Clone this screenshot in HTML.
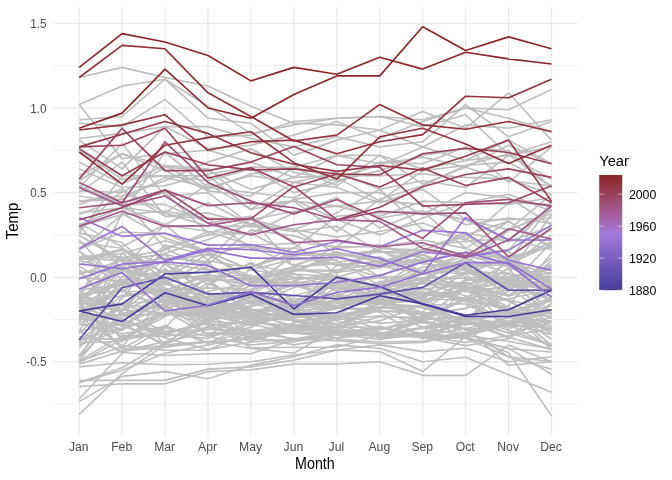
<!DOCTYPE html>
<html><head><meta charset="utf-8"><title>Temp by Month</title>
<style>
html,body{margin:0;padding:0;background:#fff;}
body{width:672px;height:480px;overflow:hidden;font-family:"Liberation Sans",sans-serif;}
svg{display:block;will-change:transform;}
text{font-family:"Liberation Sans",sans-serif;}
</style></head><body>
<svg width="672" height="480" viewBox="0 0 672 480">

<g stroke="#ebebeb" fill="none">
<line x1="53.40" x2="577.20" y1="404.10" y2="404.10" stroke-width="0.71"/>
<line x1="53.40" x2="577.20" y1="319.50" y2="319.50" stroke-width="0.71"/>
<line x1="53.40" x2="577.20" y1="234.90" y2="234.90" stroke-width="0.71"/>
<line x1="53.40" x2="577.20" y1="150.30" y2="150.30" stroke-width="0.71"/>
<line x1="53.40" x2="577.20" y1="65.70" y2="65.70" stroke-width="0.71"/>
<line x1="53.40" x2="577.20" y1="361.80" y2="361.80" stroke-width="1.42"/>
<line x1="53.40" x2="577.20" y1="277.20" y2="277.20" stroke-width="1.42"/>
<line x1="53.40" x2="577.20" y1="192.60" y2="192.60" stroke-width="1.42"/>
<line x1="53.40" x2="577.20" y1="108.00" y2="108.00" stroke-width="1.42"/>
<line x1="53.40" x2="577.20" y1="23.40" y2="23.40" stroke-width="1.42"/>
<line x1="79.15" x2="79.15" y1="7.30" y2="435.30" stroke-width="1.42"/>
<line x1="122.09" x2="122.09" y1="7.30" y2="435.30" stroke-width="1.42"/>
<line x1="165.03" x2="165.03" y1="7.30" y2="435.30" stroke-width="1.42"/>
<line x1="207.97" x2="207.97" y1="7.30" y2="435.30" stroke-width="1.42"/>
<line x1="250.91" x2="250.91" y1="7.30" y2="435.30" stroke-width="1.42"/>
<line x1="293.85" x2="293.85" y1="7.30" y2="435.30" stroke-width="1.42"/>
<line x1="336.80" x2="336.80" y1="7.30" y2="435.30" stroke-width="1.42"/>
<line x1="379.74" x2="379.74" y1="7.30" y2="435.30" stroke-width="1.42"/>
<line x1="422.68" x2="422.68" y1="7.30" y2="435.30" stroke-width="1.42"/>
<line x1="465.62" x2="465.62" y1="7.30" y2="435.30" stroke-width="1.42"/>
<line x1="508.56" x2="508.56" y1="7.30" y2="435.30" stroke-width="1.42"/>
<line x1="551.50" x2="551.50" y1="7.30" y2="435.30" stroke-width="1.42"/>
</g>
<g stroke="#bebebe" stroke-width="1.65" fill="none" stroke-linejoin="round" stroke-linecap="butt">
<polyline points="79.2,307.5 122.1,279.6 165.0,297.2 208.0,315.8 250.9,306.6 293.9,295.8 336.8,284.3 379.7,301.4 422.7,315.1 465.6,298.9 508.6,289.7 551.5,257.9"/>
<polyline points="79.2,299.0 122.1,311.2 165.0,263.7 208.0,294.5 250.9,313.7 293.9,326.1 336.8,319.7 379.7,315.9 422.7,319.3 465.6,318.3 508.6,312.6 551.5,297.8"/>
<polyline points="79.2,301.7 122.1,348.6 165.0,325.4 208.0,342.8 250.9,338.3 293.9,341.7 336.8,334.4 379.7,336.1 422.7,334.1 465.6,286.5 508.6,296.0 551.5,285.5"/>
<polyline points="79.2,360.6 122.1,335.9 165.0,336.4 208.0,329.3 250.9,330.0 293.9,339.1 336.8,332.0 379.7,336.1 422.7,316.3 465.6,328.8 508.6,317.8 551.5,321.9"/>
<polyline points="79.2,342.0 122.1,320.0 165.0,334.7 208.0,321.2 250.9,324.4 293.9,332.9 336.8,337.9 379.7,333.9 422.7,333.9 465.6,315.1 508.6,328.3 551.5,320.5"/>
<polyline points="79.2,303.6 122.1,304.9 165.0,308.5 208.0,322.9 250.9,333.9 293.9,330.8 336.8,319.5 379.7,302.9 422.7,296.2 465.6,289.6 508.6,282.3 551.5,276.7"/>
<polyline points="79.2,299.0 122.1,266.5 165.0,299.9 208.0,320.9 250.9,295.1 293.9,304.8 336.8,301.6 379.7,298.7 422.7,319.5 465.6,286.7 508.6,262.8 551.5,273.8"/>
<polyline points="79.2,331.0 122.1,351.3 165.0,347.2 208.0,342.0 250.9,331.5 293.9,331.3 336.8,334.2 379.7,326.3 422.7,338.1 465.6,333.0 508.6,316.5 551.5,330.8"/>
<polyline points="79.2,362.6 122.1,339.6 165.0,316.6 208.0,292.3 250.9,315.6 293.9,314.9 336.8,308.0 379.7,311.9 422.7,337.8 465.6,321.4 508.6,279.1 551.5,266.5"/>
<polyline points="79.2,361.1 122.1,346.7 165.0,296.2 208.0,309.3 250.9,321.9 293.9,313.1 336.8,325.1 379.7,309.7 422.7,327.3 465.6,335.9 508.6,324.9 551.5,297.7"/>
<polyline points="79.2,303.8 122.1,348.9 165.0,345.7 208.0,342.0 250.9,339.3 293.9,325.1 336.8,327.1 379.7,316.8 422.7,317.5 465.6,323.4 508.6,321.0 551.5,312.1"/>
<polyline points="79.2,318.0 122.1,324.9 165.0,345.0 208.0,310.9 250.9,297.5 293.9,311.5 336.8,320.9 379.7,332.9 422.7,328.5 465.6,323.4 508.6,284.6 551.5,289.0"/>
<polyline points="79.2,356.6 122.1,297.0 165.0,288.7 208.0,312.1 250.9,298.0 293.9,310.4 336.8,265.0 379.7,261.1 422.7,262.6 465.6,273.5 508.6,314.3 551.5,310.0"/>
<polyline points="79.2,295.1 122.1,339.1 165.0,327.5 208.0,285.3 250.9,262.6 293.9,285.0 336.8,299.4 379.7,283.6 422.7,272.6 465.6,289.2 508.6,299.9 551.5,310.2"/>
<polyline points="79.2,357.2 122.1,314.9 165.0,305.5 208.0,283.5 250.9,303.1 293.9,313.9 336.8,327.5 379.7,326.8 422.7,337.6 465.6,345.6 508.6,338.5 551.5,302.9"/>
<polyline points="79.2,260.4 122.1,272.6 165.0,302.9 208.0,302.9 250.9,309.0 293.9,319.3 336.8,330.5 379.7,334.1 422.7,327.3 465.6,318.0 508.6,323.6 551.5,287.9"/>
<polyline points="79.2,290.6 122.1,269.2 165.0,303.9 208.0,334.9 250.9,311.9 293.9,317.0 336.8,299.4 379.7,298.5 422.7,289.0 465.6,284.6 508.6,326.3 551.5,305.6"/>
<polyline points="79.2,342.7 122.1,341.2 165.0,312.7 208.0,300.0 250.9,293.6 293.9,321.5 336.8,324.1 379.7,337.9 422.7,335.6 465.6,321.0 508.6,332.9 551.5,322.5"/>
<polyline points="79.2,316.5 122.1,345.6 165.0,350.1 208.0,350.3 250.9,331.2 293.9,325.6 336.8,332.9 379.7,333.2 422.7,335.6 465.6,335.4 508.6,341.5 551.5,348.9"/>
<polyline points="79.2,355.5 122.1,303.3 165.0,301.2 208.0,309.9 250.9,317.3 293.9,317.6 336.8,314.8 379.7,323.4 422.7,319.7 465.6,316.5 508.6,330.2 551.5,344.5"/>
<polyline points="79.2,341.7 122.1,304.6 165.0,344.0 208.0,326.1 250.9,321.4 293.9,317.5 336.8,308.8 379.7,293.4 422.7,294.6 465.6,298.3 508.6,309.5 551.5,309.9"/>
<polyline points="79.2,331.0 122.1,352.5 165.0,355.5 208.0,353.7 250.9,353.7 293.9,339.6 336.8,334.1 379.7,335.2 422.7,321.5 465.6,335.2 508.6,323.1 551.5,309.5"/>
<polyline points="79.2,382.6 122.1,367.7 165.0,342.5 208.0,318.1 250.9,339.1 293.9,324.9 336.8,331.5 379.7,333.5 422.7,337.8 465.6,338.3 508.6,356.9 551.5,369.2"/>
<polyline points="79.2,360.3 122.1,310.5 165.0,280.1 208.0,323.4 250.9,347.8 293.9,347.2 336.8,347.2 379.7,335.2 422.7,335.9 465.6,342.5 508.6,335.7 551.5,328.6"/>
<polyline points="79.2,364.2 122.1,351.1 165.0,341.7 208.0,332.5 250.9,334.6 293.9,329.1 336.8,332.7 379.7,336.1 422.7,318.7 465.6,316.8 508.6,311.5 551.5,349.4"/>
<polyline points="79.2,290.6 122.1,326.8 165.0,295.8 208.0,307.3 250.9,301.7 293.9,305.6 336.8,303.8 379.7,291.8 422.7,301.6 465.6,282.1 508.6,301.2 551.5,322.7"/>
<polyline points="79.2,314.8 122.1,318.3 165.0,293.1 208.0,280.1 250.9,313.7 293.9,302.7 336.8,283.5 379.7,277.4 422.7,288.5 465.6,301.2 508.6,306.8 551.5,330.7"/>
<polyline points="79.2,339.0 122.1,338.8 165.0,311.9 208.0,324.9 250.9,341.7 293.9,326.8 336.8,334.9 379.7,335.6 422.7,336.6 465.6,337.4 508.6,348.8 551.5,352.0"/>
<polyline points="79.2,316.6 122.1,329.3 165.0,313.6 208.0,316.6 250.9,318.3 293.9,319.8 336.8,339.1 379.7,342.0 422.7,341.0 465.6,336.8 508.6,316.6 551.5,312.7"/>
<polyline points="79.2,336.8 122.1,340.3 165.0,332.2 208.0,322.9 250.9,332.4 293.9,338.8 336.8,338.3 379.7,330.2 422.7,315.6 465.6,308.2 508.6,298.7 551.5,289.7"/>
<polyline points="79.2,307.1 122.1,337.4 165.0,333.7 208.0,338.6 250.9,321.5 293.9,328.1 336.8,326.8 379.7,320.9 422.7,304.8 465.6,321.4 508.6,338.1 551.5,316.3"/>
<polyline points="79.2,324.2 122.1,333.9 165.0,326.6 208.0,343.4 250.9,323.1 293.9,324.7 336.8,329.8 379.7,302.2 422.7,297.8 465.6,256.2 508.6,262.1 551.5,283.6"/>
<polyline points="79.2,293.8 122.1,309.9 165.0,312.7 208.0,315.6 250.9,335.4 293.9,332.7 336.8,334.2 379.7,339.5 422.7,333.2 465.6,324.1 508.6,324.6 551.5,346.4"/>
<polyline points="79.2,331.0 122.1,323.7 165.0,344.2 208.0,327.3 250.9,337.3 293.9,322.9 336.8,314.6 379.7,308.2 422.7,305.3 465.6,303.8 508.6,324.6 551.5,328.5"/>
<polyline points="79.2,339.8 122.1,328.0 165.0,315.1 208.0,296.3 250.9,340.5 293.9,330.3 336.8,330.3 379.7,303.9 422.7,299.7 465.6,330.7 508.6,322.5 551.5,334.6"/>
<polyline points="79.2,315.8 122.1,315.3 165.0,314.4 208.0,312.7 250.9,318.3 293.9,333.4 336.8,317.8 379.7,303.8 422.7,306.1 465.6,320.7 508.6,314.4 551.5,300.7"/>
<polyline points="79.2,290.7 122.1,257.1 165.0,293.6 208.0,298.7 250.9,317.6 293.9,310.4 336.8,307.8 379.7,310.9 422.7,311.7 465.6,279.2 508.6,284.5 551.5,287.7"/>
<polyline points="79.2,269.2 122.1,323.7 165.0,307.0 208.0,320.3 250.9,292.3 293.9,312.4 336.8,315.4 379.7,329.3 422.7,320.5 465.6,329.3 508.6,325.3 551.5,328.3"/>
<polyline points="79.2,297.3 122.1,280.2 165.0,293.3 208.0,314.8 250.9,325.4 293.9,314.1 336.8,287.4 379.7,299.9 422.7,312.2 465.6,320.3 508.6,337.1 551.5,349.6"/>
<polyline points="79.2,307.5 122.1,319.3 165.0,337.9 208.0,349.6 250.9,342.0 293.9,339.1 336.8,340.8 379.7,343.7 422.7,342.5 465.6,333.4 508.6,323.1 551.5,322.2"/>
<polyline points="79.2,308.3 122.1,309.3 165.0,268.6 208.0,307.5 250.9,313.6 293.9,298.2 336.8,306.1 379.7,292.1 422.7,298.5 465.6,300.5 508.6,309.2 551.5,339.3"/>
<polyline points="79.2,272.0 122.1,270.8 165.0,277.2 208.0,278.2 250.9,284.3 293.9,284.1 336.8,296.5 379.7,302.2 422.7,291.6 465.6,301.2 508.6,325.8 551.5,325.4"/>
<polyline points="79.2,301.2 122.1,319.7 165.0,332.9 208.0,323.6 250.9,295.1 293.9,301.1 336.8,301.6 379.7,303.1 422.7,300.4 465.6,289.7 508.6,268.7 551.5,314.1"/>
<polyline points="79.2,313.9 122.1,330.7 165.0,288.7 208.0,317.0 250.9,301.7 293.9,308.8 336.8,331.5 379.7,328.5 422.7,322.4 465.6,329.1 508.6,356.7 551.5,361.5"/>
<polyline points="79.2,320.5 122.1,266.9 165.0,284.1 208.0,294.0 250.9,296.7 293.9,302.7 336.8,305.8 379.7,299.7 422.7,293.3 465.6,299.5 508.6,299.5 551.5,327.6"/>
<polyline points="79.2,322.0 122.1,313.9 165.0,331.0 208.0,329.7 250.9,319.3 293.9,329.7 336.8,297.7 379.7,303.9 422.7,308.0 465.6,320.0 508.6,290.6 551.5,266.5"/>
<polyline points="79.2,324.1 122.1,325.1 165.0,299.5 208.0,306.1 250.9,317.3 293.9,320.5 336.8,318.3 379.7,310.7 422.7,314.4 465.6,308.5 508.6,257.1 551.5,229.3"/>
<polyline points="79.2,290.1 122.1,284.0 165.0,284.6 208.0,266.5 250.9,277.4 293.9,282.1 336.8,285.0 379.7,284.3 422.7,267.2 465.6,261.0 508.6,288.7 551.5,296.0"/>
<polyline points="79.2,256.7 122.1,253.7 165.0,240.8 208.0,252.8 250.9,281.8 293.9,267.0 336.8,262.3 379.7,256.7 422.7,274.2 465.6,268.9 508.6,279.6 551.5,289.7"/>
<polyline points="79.2,235.4 122.1,261.6 165.0,288.0 208.0,304.6 250.9,285.5 293.9,255.7 336.8,253.5 379.7,276.5 422.7,278.4 465.6,263.2 508.6,230.7 551.5,210.4"/>
<polyline points="79.2,251.1 122.1,279.9 165.0,279.4 208.0,275.2 250.9,278.9 293.9,269.9 336.8,270.4 379.7,263.8 422.7,245.7 465.6,241.2 508.6,238.5 551.5,249.8"/>
<polyline points="79.2,314.8 122.1,290.6 165.0,307.3 208.0,277.2 250.9,285.7 293.9,281.8 336.8,286.8 379.7,300.0 422.7,270.3 465.6,291.2 508.6,273.8 551.5,289.0"/>
<polyline points="79.2,300.7 122.1,304.9 165.0,278.4 208.0,254.0 250.9,280.9 293.9,283.8 336.8,275.7 379.7,286.5 422.7,278.0 465.6,291.8 508.6,280.1 551.5,272.5"/>
<polyline points="79.2,271.6 122.1,310.7 165.0,293.1 208.0,313.6 250.9,297.8 293.9,283.0 336.8,284.6 379.7,296.5 422.7,283.5 465.6,286.8 508.6,311.9 551.5,316.6"/>
<polyline points="79.2,277.4 122.1,281.4 165.0,294.8 208.0,319.8 250.9,314.4 293.9,300.9 336.8,296.2 379.7,297.5 422.7,322.5 465.6,296.8 508.6,283.6 551.5,264.5"/>
<polyline points="79.2,293.6 122.1,313.4 165.0,303.6 208.0,278.9 250.9,314.9 293.9,313.4 336.8,318.0 379.7,307.5 422.7,288.4 465.6,298.7 508.6,323.2 551.5,317.8"/>
<polyline points="79.2,320.9 122.1,282.4 165.0,290.9 208.0,273.6 250.9,293.6 293.9,273.6 336.8,291.1 379.7,274.5 422.7,299.0 465.6,272.5 508.6,280.8 551.5,315.4"/>
<polyline points="79.2,266.2 122.1,291.8 165.0,290.7 208.0,275.7 250.9,275.3 293.9,307.7 336.8,295.8 379.7,281.8 422.7,274.2 465.6,258.4 508.6,273.8 551.5,214.8"/>
<polyline points="79.2,249.6 122.1,232.2 165.0,233.2 208.0,252.0 250.9,269.9 293.9,259.1 336.8,260.1 379.7,285.8 422.7,295.3 465.6,280.8 508.6,276.9 551.5,269.1"/>
<polyline points="79.2,299.7 122.1,267.6 165.0,303.3 208.0,315.6 250.9,310.9 293.9,304.4 336.8,300.5 379.7,288.9 422.7,303.4 465.6,290.6 508.6,287.4 551.5,318.3"/>
<polyline points="79.2,257.2 122.1,257.4 165.0,290.9 208.0,335.9 250.9,331.0 293.9,326.3 336.8,316.3 379.7,286.0 422.7,282.6 465.6,285.7 508.6,307.3 551.5,333.7"/>
<polyline points="79.2,331.3 122.1,252.7 165.0,292.8 208.0,314.8 250.9,300.2 293.9,307.3 336.8,324.4 379.7,306.8 422.7,313.9 465.6,333.5 508.6,323.7 551.5,310.7"/>
<polyline points="79.2,264.7 122.1,249.1 165.0,279.9 208.0,309.7 250.9,325.4 293.9,302.1 336.8,277.4 379.7,265.2 422.7,250.6 465.6,232.5 508.6,241.7 551.5,226.4"/>
<polyline points="79.2,274.2 122.1,260.1 165.0,263.5 208.0,270.1 250.9,281.8 293.9,270.9 336.8,253.9 379.7,261.3 422.7,255.0 465.6,267.2 508.6,261.6 551.5,284.8"/>
<polyline points="79.2,273.8 122.1,266.9 165.0,283.3 208.0,297.5 250.9,291.2 293.9,271.6 336.8,256.4 379.7,266.9 422.7,259.4 465.6,254.0 508.6,251.5 551.5,292.9"/>
<polyline points="79.2,300.2 122.1,264.7 165.0,258.1 208.0,261.5 250.9,305.8 293.9,287.4 336.8,277.7 379.7,294.1 422.7,277.9 465.6,278.4 508.6,282.8 551.5,298.9"/>
<polyline points="79.2,299.4 122.1,213.2 165.0,238.1 208.0,252.0 250.9,269.6 293.9,277.0 336.8,280.1 379.7,286.7 422.7,270.3 465.6,274.2 508.6,257.2 551.5,287.0"/>
<polyline points="79.2,259.1 122.1,249.3 165.0,264.5 208.0,284.0 250.9,263.5 293.9,274.2 336.8,276.2 379.7,285.8 422.7,279.7 465.6,283.8 508.6,276.7 551.5,268.4"/>
<polyline points="79.2,316.3 122.1,287.4 165.0,260.1 208.0,254.4 250.9,277.2 293.9,266.7 336.8,264.0 379.7,262.8 422.7,259.6 465.6,267.6 508.6,264.2 551.5,244.5"/>
<polyline points="79.2,344.9 122.1,329.8 165.0,311.2 208.0,334.7 250.9,327.5 293.9,307.7 336.8,306.3 379.7,303.3 422.7,318.7 465.6,299.9 508.6,267.7 551.5,280.9"/>
<polyline points="79.2,333.0 122.1,295.0 165.0,291.2 208.0,303.9 250.9,281.8 293.9,278.0 336.8,277.5 379.7,302.7 422.7,300.4 465.6,288.7 508.6,311.9 551.5,285.5"/>
<polyline points="79.2,251.5 122.1,289.2 165.0,310.0 208.0,291.2 250.9,283.1 293.9,278.7 336.8,276.4 379.7,286.8 422.7,297.2 465.6,325.3 508.6,305.8 551.5,253.2"/>
<polyline points="79.2,310.9 122.1,287.2 165.0,281.6 208.0,308.0 250.9,309.5 293.9,312.7 336.8,281.8 379.7,293.1 422.7,281.6 465.6,257.4 508.6,229.8 551.5,213.4"/>
<polyline points="79.2,297.0 122.1,305.3 165.0,315.4 208.0,310.0 250.9,268.2 293.9,301.4 336.8,293.4 379.7,308.7 422.7,287.7 465.6,272.1 508.6,287.0 551.5,242.5"/>
<polyline points="79.2,242.5 122.1,248.3 165.0,273.1 208.0,280.2 250.9,279.6 293.9,270.4 336.8,271.3 379.7,245.9 422.7,258.1 465.6,270.4 508.6,284.8 551.5,300.0"/>
<polyline points="79.2,318.7 122.1,276.9 165.0,271.6 208.0,272.8 250.9,266.2 293.9,255.4 336.8,254.7 379.7,251.0 422.7,263.8 465.6,269.2 508.6,283.5 551.5,281.9"/>
<polyline points="79.2,301.2 122.1,296.0 165.0,290.9 208.0,287.9 250.9,289.6 293.9,268.6 336.8,276.0 379.7,288.0 422.7,282.1 465.6,296.0 508.6,311.7 551.5,300.9"/>
<polyline points="79.2,348.1 122.1,298.0 165.0,248.1 208.0,269.9 250.9,267.7 293.9,247.4 336.8,265.5 379.7,266.2 422.7,273.1 465.6,265.0 508.6,296.0 551.5,261.0"/>
<polyline points="79.2,232.9 122.1,242.5 165.0,282.3 208.0,261.0 250.9,267.7 293.9,252.7 336.8,255.0 379.7,252.3 422.7,250.3 465.6,235.1 508.6,221.4 551.5,248.4"/>
<polyline points="79.2,258.4 122.1,260.4 165.0,291.6 208.0,294.3 250.9,298.5 293.9,285.3 336.8,288.4 379.7,285.8 422.7,259.9 465.6,290.7 508.6,310.0 551.5,345.0"/>
<polyline points="79.2,295.1 122.1,284.8 165.0,253.5 208.0,302.1 250.9,306.6 293.9,280.6 336.8,272.3 379.7,267.6 422.7,262.8 465.6,270.4 508.6,274.2 551.5,276.9"/>
<polyline points="79.2,294.1 122.1,290.9 165.0,269.2 208.0,306.0 250.9,315.9 293.9,304.3 336.8,307.7 379.7,308.7 422.7,280.8 465.6,283.1 508.6,295.6 551.5,273.3"/>
<polyline points="79.2,235.4 122.1,259.1 165.0,254.4 208.0,264.2 250.9,230.0 293.9,235.9 336.8,248.3 379.7,244.7 422.7,258.1 465.6,265.4 508.6,261.0 551.5,204.8"/>
<polyline points="79.2,302.6 122.1,257.7 165.0,250.1 208.0,231.7 250.9,245.1 293.9,256.7 336.8,264.8 379.7,277.0 422.7,254.5 465.6,277.2 508.6,278.4 551.5,288.5"/>
<polyline points="79.2,299.2 122.1,281.3 165.0,253.3 208.0,239.5 250.9,224.1 293.9,229.5 336.8,237.1 379.7,231.5 422.7,222.9 465.6,238.6 508.6,265.0 551.5,279.6"/>
<polyline points="79.2,386.5 122.1,383.8 165.0,383.8 208.0,371.6 250.9,369.8 293.9,364.0 336.8,364.0 379.7,361.8 422.7,375.3 465.6,375.3 508.6,344.9 551.5,361.8"/>
<polyline points="79.2,380.4 122.1,380.4 165.0,380.4 208.0,369.1 250.9,366.9 293.9,360.1 336.8,350.0 379.7,351.6 422.7,371.6 465.6,336.4 508.6,352.8 551.5,415.9"/>
<polyline points="79.2,401.6 122.1,376.4 165.0,371.6 208.0,378.7 250.9,365.2 293.9,356.7 336.8,344.9 379.7,348.3 422.7,361.8 465.6,357.2 508.6,374.8 551.5,392.3"/>
<polyline points="79.2,414.3 122.1,373.6 165.0,344.9 208.0,341.5 250.9,348.3 293.9,353.3 336.8,328.0 379.7,336.4 422.7,328.0 465.6,319.5 508.6,333.0 551.5,344.9"/>
<polyline points="79.2,399.0 122.1,353.3 165.0,328.0 208.0,336.4 250.9,344.9 293.9,341.5 336.8,333.0 379.7,328.0 422.7,336.4 465.6,328.0 508.6,365.2 551.5,361.8"/>
<polyline points="79.2,366.9 122.1,362.8 165.0,364.8 208.0,364.3 250.9,361.8 293.9,355.0 336.8,350.0 379.7,344.9 422.7,351.6 465.6,348.3 508.6,361.8 551.5,356.7"/>
<polyline points="79.2,382.8 122.1,370.3 165.0,353.3 208.0,344.9 250.9,336.4 293.9,344.9 336.8,338.1 379.7,328.0 422.7,333.0 465.6,338.1 508.6,348.3 551.5,374.2"/>
<polyline points="79.2,260.3 122.1,250.1 165.0,273.8 208.0,250.1 250.9,246.7 293.9,265.4 336.8,251.8 379.7,262.0 422.7,250.1 465.6,253.5 508.6,250.1 551.5,202.8"/>
<polyline points="79.2,185.8 122.1,204.4 165.0,204.4 208.0,223.1 250.9,216.3 293.9,241.7 336.8,246.7 379.7,218.0 422.7,211.2 465.6,248.4 508.6,221.4 551.5,246.7"/>
<polyline points="79.2,223.1 122.1,246.7 165.0,224.7 208.0,260.3 250.9,218.0 293.9,267.0 336.8,246.7 379.7,246.7 422.7,240.0 465.6,248.4 508.6,265.4 551.5,284.0"/>
<polyline points="79.2,240.0 122.1,285.7 165.0,245.1 208.0,255.2 250.9,245.1 293.9,243.4 336.8,273.8 379.7,248.4 422.7,250.1 465.6,253.5 508.6,258.6 551.5,246.7"/>
<polyline points="79.2,224.7 122.1,207.8 165.0,224.7 208.0,231.5 250.9,233.2 293.9,255.2 336.8,255.2 379.7,250.1 422.7,272.1 465.6,251.8 508.6,256.9 551.5,246.7"/>
<polyline points="79.2,214.6 122.1,197.7 165.0,248.4 208.0,234.9 250.9,233.2 293.9,212.9 336.8,197.7 379.7,228.1 422.7,211.2 465.6,219.7 508.6,229.8 551.5,194.3"/>
<polyline points="79.2,250.1 122.1,214.6 165.0,211.2 208.0,218.0 250.9,248.4 293.9,248.4 336.8,216.3 379.7,212.9 422.7,211.2 465.6,219.7 508.6,240.0 551.5,209.5"/>
<polyline points="79.2,204.4 122.1,189.2 165.0,212.9 208.0,184.1 250.9,209.5 293.9,182.4 336.8,187.5 379.7,202.8 422.7,189.2 465.6,219.7 508.6,219.7 551.5,218.0"/>
<polyline points="79.2,196.0 122.1,202.8 165.0,192.6 208.0,233.2 250.9,219.7 293.9,229.8 336.8,253.5 379.7,258.6 422.7,272.1 465.6,255.2 508.6,267.0 551.5,234.9"/>
<polyline points="79.2,212.9 122.1,207.8 165.0,212.9 208.0,226.4 250.9,226.4 293.9,231.5 336.8,226.4 379.7,251.8 422.7,255.2 465.6,234.9 508.6,262.0 551.5,241.7"/>
<polyline points="79.2,226.4 122.1,268.7 165.0,224.7 208.0,202.8 250.9,224.7 293.9,199.4 336.8,219.7 379.7,234.9 422.7,218.0 465.6,202.8 508.6,194.3 551.5,211.2"/>
<polyline points="79.2,187.5 122.1,143.5 165.0,196.0 208.0,192.6 250.9,224.7 293.9,199.4 336.8,192.6 379.7,192.6 422.7,214.6 465.6,192.6 508.6,197.7 551.5,224.7"/>
<polyline points="79.2,229.8 122.1,190.9 165.0,216.3 208.0,212.9 250.9,224.7 293.9,229.8 336.8,212.9 379.7,189.2 422.7,229.8 465.6,240.0 508.6,202.8 551.5,204.4"/>
<polyline points="79.2,192.6 122.1,162.1 165.0,216.3 208.0,218.0 250.9,219.7 293.9,211.2 336.8,206.1 379.7,216.3 422.7,201.1 465.6,202.8 508.6,204.4 551.5,197.7"/>
<polyline points="79.2,233.2 122.1,175.7 165.0,175.7 208.0,175.7 250.9,209.5 293.9,201.1 336.8,206.1 379.7,201.1 422.7,204.4 465.6,224.7 508.6,218.0 551.5,223.1"/>
<polyline points="79.2,201.1 122.1,199.4 165.0,177.4 208.0,187.5 250.9,175.7 293.9,182.4 336.8,172.3 379.7,189.2 422.7,180.8 465.6,187.5 508.6,155.4 551.5,179.1"/>
<polyline points="79.2,150.3 122.1,179.1 165.0,175.7 208.0,180.8 250.9,168.9 293.9,192.6 336.8,182.4 379.7,162.1 422.7,163.8 465.6,146.9 508.6,182.4 551.5,146.9"/>
<polyline points="79.2,175.7 122.1,153.7 165.0,165.5 208.0,168.9 250.9,204.4 293.9,201.1 336.8,231.5 379.7,199.4 422.7,185.8 465.6,165.5 508.6,153.7 551.5,187.5"/>
<polyline points="79.2,180.8 122.1,153.7 165.0,170.6 208.0,190.9 250.9,196.0 293.9,167.2 336.8,185.8 379.7,155.4 422.7,168.9 465.6,160.5 508.6,155.4 551.5,146.9"/>
<polyline points="79.2,104.6 122.1,158.8 165.0,153.7 208.0,150.3 250.9,162.1 293.9,177.4 336.8,175.7 379.7,175.7 422.7,174.0 465.6,177.4 508.6,179.1 551.5,194.3"/>
<polyline points="79.2,226.4 122.1,214.6 165.0,152.0 208.0,187.5 250.9,192.6 293.9,197.7 336.8,177.4 379.7,201.1 422.7,170.6 465.6,165.5 508.6,162.1 551.5,185.8"/>
<polyline points="79.2,168.9 122.1,187.5 165.0,185.8 208.0,174.0 250.9,167.2 293.9,167.2 336.8,155.4 379.7,163.8 422.7,157.1 465.6,167.2 508.6,145.2 551.5,163.8"/>
<polyline points="79.2,190.9 122.1,192.6 165.0,167.2 208.0,170.6 250.9,189.2 293.9,177.4 336.8,155.4 379.7,155.4 422.7,184.1 465.6,167.2 508.6,180.8 551.5,185.8"/>
<polyline points="79.2,201.1 122.1,196.0 165.0,180.8 208.0,162.1 250.9,148.6 293.9,172.3 336.8,180.8 379.7,170.6 422.7,155.4 465.6,148.6 508.6,150.3 551.5,187.5"/>
<polyline points="79.2,162.1 122.1,184.1 165.0,165.5 208.0,189.2 250.9,174.0 293.9,167.2 336.8,177.4 379.7,165.5 422.7,146.9 465.6,160.5 508.6,140.1 551.5,163.8"/>
<polyline points="79.2,104.6 122.1,86.0 165.0,79.2 208.0,118.2 250.9,123.2 293.9,155.4 336.8,140.1 379.7,130.0 422.7,146.9 465.6,124.9 508.6,128.3 551.5,119.8"/>
<polyline points="79.2,138.5 122.1,133.4 165.0,126.6 208.0,126.6 250.9,138.5 293.9,146.9 336.8,136.8 379.7,146.9 422.7,141.8 465.6,104.6 508.6,136.8 551.5,121.5"/>
<polyline points="79.2,119.8 122.1,116.5 165.0,79.2 208.0,106.3 250.9,133.4 293.9,124.9 336.8,118.2 379.7,116.5 422.7,119.8 465.6,108.0 508.6,109.7 551.5,89.4"/>
<polyline points="79.2,77.5 122.1,67.4 165.0,77.5 208.0,86.0 250.9,106.3 293.9,123.2 336.8,124.9 379.7,130.0 422.7,111.4 465.6,128.3 508.6,92.8 551.5,140.1"/>
<polyline points="79.2,140.1 122.1,168.9 165.0,126.6 208.0,148.6 250.9,145.2 293.9,135.1 336.8,121.5 379.7,138.5 422.7,121.5 465.6,108.0 508.6,118.2 551.5,131.7"/>
<polyline points="79.2,123.2 122.1,126.6 165.0,99.5 208.0,136.8 250.9,135.1 293.9,121.5 336.8,118.2 379.7,116.5 422.7,126.6 465.6,114.8 508.6,155.4 551.5,141.8"/>
</g>
<g stroke-width="1.65" fill="none" stroke-linejoin="round" stroke-linecap="butt">
<polyline stroke="#453d9c" points="79.2,311.0 122.1,321.5 165.0,292.8 208.0,305.8 250.9,294.1 293.9,314.4 336.8,312.7 379.7,295.8 422.7,303.9 465.6,316.5 508.6,316.5 551.5,309.7"/>
<polyline stroke="#463e9c" points="79.2,311.0 122.1,303.9 165.0,274.0 208.0,272.1 250.9,267.2 293.9,309.0 336.8,277.2 379.7,286.5 422.7,303.9 465.6,315.3 508.6,309.7 551.5,290.2"/>
<polyline stroke="#604ead" points="79.2,339.8 122.1,287.7 165.0,277.2 208.0,294.1 250.9,292.4 293.9,295.5 336.8,298.9 379.7,294.1 422.7,287.4 465.6,262.6 508.6,290.2 551.5,290.2"/>
<polyline stroke="#916ecf" points="79.2,289.0 122.1,272.6 165.0,311.0 208.0,305.3 250.9,291.6 293.9,305.6 336.8,292.3 379.7,287.4 422.7,273.8 465.6,262.6 508.6,262.6 551.5,289.0"/>
<polyline stroke="#926fd0" points="79.2,264.0 122.1,268.7 165.0,262.0 208.0,265.4 250.9,285.7 293.9,285.7 336.8,282.3 379.7,275.5 422.7,262.1 465.6,252.2 508.6,264.0 551.5,297.2"/>
<polyline stroke="#9571d2" points="79.2,278.9 122.1,264.0 165.0,261.5 208.0,250.1 250.9,258.1 293.9,258.6 336.8,257.2 379.7,266.4 422.7,251.8 465.6,256.9 508.6,250.1 551.5,225.1"/>
<polyline stroke="#9672d3" points="79.2,248.4 122.1,226.4 165.0,260.3 208.0,248.4 250.9,249.6 293.9,254.7 336.8,248.8 379.7,258.6 422.7,273.8 465.6,217.6 508.6,240.0 551.5,240.0"/>
<polyline stroke="#9a74d5" points="79.2,217.6 122.1,236.4 165.0,233.2 208.0,245.1 250.9,244.7 293.9,252.2 336.8,241.3 379.7,246.7 422.7,230.2 465.6,232.9 508.6,260.3 551.5,270.4"/>
<polyline stroke="#a3588e" points="79.2,226.4 122.1,211.2 165.0,226.4 208.0,225.6 250.9,218.1 293.9,242.7 336.8,240.0 379.7,246.7 422.7,242.7 465.6,256.1 508.6,228.8 551.5,239.0"/>
<polyline stroke="#a2578c" points="79.2,187.5 122.1,206.1 165.0,196.0 208.0,223.1 250.9,234.9 293.9,224.7 336.8,219.7 379.7,221.4 422.7,248.4 465.6,257.7 508.6,240.0 551.5,206.1"/>
<polyline stroke="#a04f7b" points="79.2,182.4 122.1,202.8 165.0,190.1 208.0,205.6 250.9,202.8 293.9,207.8 336.8,220.2 379.7,211.2 422.7,213.9 465.6,212.9 508.6,256.9 551.5,228.1"/>
<polyline stroke="#9f4c76" points="79.2,207.8 122.1,202.8 165.0,141.8 208.0,182.4 250.9,201.1 293.9,213.9 336.8,199.5 379.7,218.8 422.7,238.3 465.6,202.8 508.6,199.4 551.5,206.1"/>
<polyline stroke="#9c4465" points="79.2,219.7 122.1,207.8 165.0,190.1 208.0,219.3 250.9,218.8 293.9,186.3 336.8,219.7 379.7,207.2 422.7,186.7 465.6,174.5 508.6,168.9 551.5,177.4"/>
<polyline stroke="#9c4363" points="79.2,179.1 122.1,128.3 165.0,170.6 208.0,170.6 250.9,162.1 293.9,146.4 336.8,164.7 379.7,167.2 422.7,206.1 465.6,204.4 508.6,202.8 551.5,185.8"/>
<polyline stroke="#9a3f59" points="79.2,146.9 122.1,145.2 165.0,128.3 208.0,178.2 250.9,167.7 293.9,187.0 336.8,174.0 379.7,187.0 422.7,168.1 465.6,185.5 508.6,177.4 551.5,202.8"/>
<polyline stroke="#983b52" points="79.2,148.6 122.1,175.7 165.0,152.0 208.0,164.7 250.9,169.9 293.9,168.9 336.8,174.0 379.7,174.8 422.7,153.7 465.6,148.3 508.6,152.5 551.5,163.8"/>
<polyline stroke="#953647" points="79.2,146.9 122.1,134.2 165.0,121.5 208.0,133.4 250.9,152.8 293.9,164.3 336.8,171.4 379.7,165.5 422.7,170.1 465.6,156.2 508.6,140.1 551.5,201.4"/>
<polyline stroke="#92313e" points="79.2,152.0 122.1,184.1 165.0,145.2 208.0,137.6 250.9,131.7 293.9,162.7 336.8,179.1 379.7,136.8 422.7,128.3 465.6,144.0 508.6,163.5 551.5,145.2"/>
<polyline stroke="#92303c" points="79.2,130.0 122.1,124.9 165.0,114.8 208.0,150.3 250.9,141.8 293.9,140.1 336.8,153.7 379.7,141.8 422.7,134.6 465.6,96.2 508.6,97.8 551.5,79.2"/>
<polyline stroke="#912f3a" points="79.2,77.5 122.1,45.4 165.0,48.8 208.0,92.8 250.9,116.5 293.9,141.0 336.8,135.1 379.7,104.6 422.7,124.9 465.6,129.2 508.6,121.5 551.5,131.7"/>
<polyline stroke="#8c262a" points="79.2,128.3 122.1,113.1 165.0,69.1 208.0,108.0 250.9,118.2 293.9,94.5 336.8,75.9 379.7,75.9 422.7,26.8 465.6,50.5 508.6,36.9 551.5,48.8"/>
<polyline stroke="#8b2528" points="79.2,67.4 122.1,33.6 165.0,42.0 208.0,55.5 250.9,80.9 293.9,67.4 336.8,74.2 379.7,57.2 422.7,69.1 465.6,52.2 508.6,58.9 551.5,64.0"/>
</g>
<g font-size="11.73" fill="#4d4d4d" opacity="0.999">
<text transform="translate(46.5,366.40) scale(1,1.07)" text-anchor="end">-0.5</text>
<text transform="translate(46.5,281.80) scale(1,1.07)" text-anchor="end">0.0</text>
<text transform="translate(46.5,197.20) scale(1,1.07)" text-anchor="end">0.5</text>
<text transform="translate(46.5,112.60) scale(1,1.07)" text-anchor="end">1.0</text>
<text transform="translate(46.5,28.00) scale(1,1.07)" text-anchor="end">1.5</text>
<text x="78.75" y="450.9" font-size="12.2" text-anchor="middle">Jan</text>
<text x="121.69" y="450.9" font-size="12.2" text-anchor="middle">Feb</text>
<text x="164.63" y="450.9" font-size="12.2" text-anchor="middle">Mar</text>
<text x="207.57" y="450.9" font-size="12.2" text-anchor="middle">Apr</text>
<text x="250.51" y="450.9" font-size="12.2" text-anchor="middle">May</text>
<text x="293.45" y="450.9" font-size="12.2" text-anchor="middle">Jun</text>
<text x="336.40" y="450.9" font-size="12.2" text-anchor="middle">Jul</text>
<text x="379.34" y="450.9" font-size="12.2" text-anchor="middle">Aug</text>
<text x="422.28" y="450.9" font-size="12.2" text-anchor="middle">Sep</text>
<text x="465.22" y="450.9" font-size="12.2" text-anchor="middle">Oct</text>
<text x="508.16" y="450.9" font-size="12.2" text-anchor="middle">Nov</text>
<text x="551.10" y="450.9" font-size="12.2" text-anchor="middle">Dec</text>
</g>
<text transform="translate(314.9,469.2) scale(0.972,1.08)" font-size="14.67" text-anchor="middle" fill="#000">Month</text>
<text transform="translate(17.8,221) rotate(-90) scale(1.02,1.08)" font-size="14.67" text-anchor="middle" fill="#000">Temp</text>
<text transform="translate(599.2,166) scale(1,1.06)" font-size="14.67" fill="#000">Year</text>
<defs><linearGradient id="lg" x1="0" y1="1" x2="0" y2="0">
<stop offset="0.000" stop-color="#453d9c"/>
<stop offset="0.050" stop-color="#4f43a2"/>
<stop offset="0.100" stop-color="#5949a8"/>
<stop offset="0.150" stop-color="#634faf"/>
<stop offset="0.200" stop-color="#6c55b5"/>
<stop offset="0.250" stop-color="#765bbc"/>
<stop offset="0.300" stop-color="#7f62c2"/>
<stop offset="0.350" stop-color="#8868c9"/>
<stop offset="0.400" stop-color="#926fd0"/>
<stop offset="0.450" stop-color="#9b75d6"/>
<stop offset="0.500" stop-color="#a378d6"/>
<stop offset="0.550" stop-color="#a46fc3"/>
<stop offset="0.600" stop-color="#a467b0"/>
<stop offset="0.650" stop-color="#a45f9e"/>
<stop offset="0.700" stop-color="#a2578c"/>
<stop offset="0.750" stop-color="#a04f7b"/>
<stop offset="0.800" stop-color="#9d4669"/>
<stop offset="0.850" stop-color="#993e58"/>
<stop offset="0.900" stop-color="#953648"/>
<stop offset="0.950" stop-color="#902e38"/>
<stop offset="1.000" stop-color="#8b2528"/>
</linearGradient></defs>
<rect x="599.2" y="175.0" width="23.04" height="115.2" fill="url(#lg)"/>
<line x1="599.2" x2="603.8" y1="290.20" y2="290.20" stroke="#fff" stroke-width="0.5"/>
<line x1="617.6" x2="622.24" y1="290.20" y2="290.20" stroke="#fff" stroke-width="0.5"/>
<text x="628.9" y="294.70" font-size="12.35" fill="#000">1880</text>
<line x1="599.2" x2="603.8" y1="258.20" y2="258.20" stroke="#fff" stroke-width="0.5"/>
<line x1="617.6" x2="622.24" y1="258.20" y2="258.20" stroke="#fff" stroke-width="0.5"/>
<text x="628.9" y="262.70" font-size="12.35" fill="#000">1920</text>
<line x1="599.2" x2="603.8" y1="226.20" y2="226.20" stroke="#fff" stroke-width="0.5"/>
<line x1="617.6" x2="622.24" y1="226.20" y2="226.20" stroke="#fff" stroke-width="0.5"/>
<text x="628.9" y="230.70" font-size="12.35" fill="#000">1960</text>
<line x1="599.2" x2="603.8" y1="194.20" y2="194.20" stroke="#fff" stroke-width="0.5"/>
<line x1="617.6" x2="622.24" y1="194.20" y2="194.20" stroke="#fff" stroke-width="0.5"/>
<text x="628.9" y="198.70" font-size="12.35" fill="#000">2000</text>
</svg></body></html>
